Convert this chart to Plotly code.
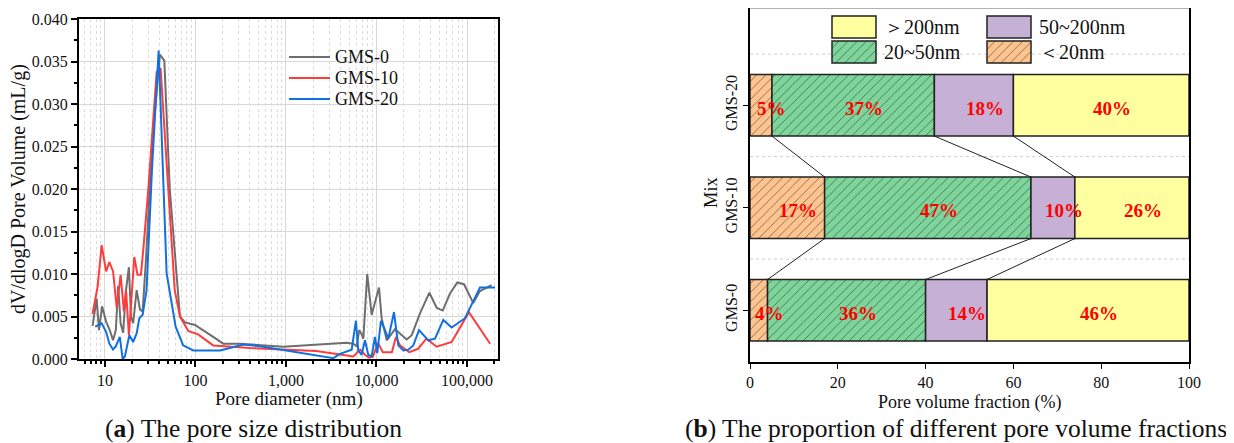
import plotly.graph_objects as go
import numpy as np

# ---------------- data: pore size distribution ----------------
gms0_d = [7.3, 8.1, 8.6, 9.3, 10.3, 11.3, 12.3, 13.2, 14.0, 14.9, 15.9, 17.1, 18.4, 19.4, 20.5, 22.4, 24.4, 26.1,
          28.5, 33, 40.5, 45.3, 52, 67.4, 76.5, 98.9, 157, 203, 309, 400, 934, 4660, 5540, 6040, 6450, 6860, 7160,
          7900, 8850, 10660, 11400, 12970, 16000, 21600, 24500, 30300, 38400, 46300, 53900, 64900, 78200, 92700,
          117000, 139000, 187000]
gms0_v = [0.0039, 0.0071, 0.0034, 0.0062, 0.0044, 0.0034, 0.0022, 0.0034, 0.0086, 0.0042, 0.0031, 0.0081, 0.0108,
          0.0050, 0.0042, 0.0081, 0.0058, 0.0056, 0.0120, 0.0250, 0.0358, 0.0351, 0.0200, 0.0050, 0.0043, 0.0040,
          0.0026, 0.0018, 0.0018, 0.0017, 0.00145, 0.0019, 0.0018, 0.0015, 0.0034, 0.0029, 0.0024, 0.0100, 0.0052,
          0.0084, 0.0048, 0.0022, 0.0035, 0.0023, 0.0028, 0.0054, 0.0078, 0.0060, 0.0057, 0.0077, 0.0090, 0.0088,
          0.0066, 0.0080, 0.0087]

gms10_d = [7.3, 8.3, 9.2, 10.3, 11.2, 12.3, 13.5, 14.9, 16.2, 17.1, 18.4, 21.1, 22.9, 25.0, 26.9, 30.1, 37.3, 41.2,
           59, 67.4, 83.3, 107, 157, 261, 400, 2160, 5540, 6620, 7460, 8300, 9160, 10400, 11750, 14800, 16400,
           18200, 23000, 28800, 35500, 46300, 67700, 105000, 180000]
gms10_v = [0.0053, 0.0085, 0.0134, 0.0103, 0.0114, 0.0103, 0.0060, 0.0099, 0.0056, 0.0081, 0.0028, 0.0120, 0.0099,
           0.0099, 0.0136, 0.0199, 0.0338, 0.0342, 0.0081, 0.0050, 0.0033, 0.0029, 0.0016, 0.0014, 0.0013, 0.00094,
           0.0003, 0.0011, 0.0005, 0.00015, 0.0003, 0.0019, 0.0008, 0.0008, 0.0026, 0.0016, 0.0008, 0.0012, 0.0024,
           0.00145, 0.0020, 0.0055, 0.0018]

gms20_d = [7.8, 9.2, 10.3, 11.2, 12.3, 13.2, 14.6, 15.7, 16.6, 18.6, 20.5, 22.4, 24.0, 26.1, 28.8, 33, 39.2, 48,
           60.4, 73.2, 94.8, 187, 338, 516, 3340, 3950, 5320, 5930, 6290, 6860, 7460, 8110, 8850, 9620, 10200,
           11200, 12200, 13500, 15600, 17400, 19800, 22500, 25500, 29500, 37400, 44300, 54700, 67700, 95000,
           139000, 204000]
gms20_v = [0.0038, 0.0042, 0.0032, 0.0018, 0.0011, 0.0015, 0.0026, 0.0000, 0.0003, 0.0028, 0.0020, 0.0030, 0.0048,
           0.0052, 0.0081, 0.0220, 0.0363, 0.0101, 0.0038, 0.0016, 0.0010, 0.0010, 0.0017, 0.0015, 0.0001, 0.0006,
           0.0011, 0.0045, 0.0010, 0.0005, 0.0022, 0.0005, 0.0003, 0.0026, 0.0007, 0.0045, 0.0036, 0.0024, 0.0055,
           0.0016, 0.0010, 0.0011, 0.0016, 0.0034, 0.0022, 0.0024, 0.0046, 0.0037, 0.0048, 0.0084, 0.0084]

series_names = ["GMS-0", "GMS-10", "GMS-20"]
series_colors = ["#6e6e6e", "#ff3c3c", "#1170e0"]

x_tickvals = [10, 100, 1000, 10000, 100000]
x_ticktext = ["10", "100", "1,000", "10,000", "100,000"]

# ---------------- data: pore volume fractions ----------------
mixes = ["GMS-0", "GMS-10", "GMS-20"]
frac_lt20 = [4, 17, 5]
frac_20_50 = [36, 47, 37]
frac_50_200 = [14, 10, 18]
frac_gt200 = [46, 26, 40]
class_names = ["＜20nm", "20~50nm", "50~200nm", "＞200nm"]
class_colors = ["#fdc48f", "#7ed59b", "#c6b0d5", "#ffff9f"]
class_hatch = ["/", "/", "", ""]

FONT = "Liberation Serif"
WIN_W, WIN_H = 1234, 443
OFF = 8  # default page body margin
W, H = WIN_W - OFF, WIN_H - OFF

def px(xp):
    return (xp - OFF) / W

def py(yp):
    return 1 - (yp - OFF) / H

fig = go.Figure()

# ---- left chart lines ----
for d, v, n, c in zip([gms0_d, gms10_d, gms20_d], [gms0_v, gms10_v, gms20_v], series_names, series_colors):
    fig.add_trace(go.Scatter(x=d, y=v, mode="lines", name=n, line=dict(color=c, width=2),
                             showlegend=False, xaxis="x", yaxis="y"))

# ---- right chart stacked bars ----
fracs = [frac_lt20, frac_20_50, frac_50_200, frac_gt200]
ypos = list(range(len(mixes)))
cum = np.zeros(len(mixes))
bases = []
for f, n, c, h in zip(fracs, class_names, class_colors, class_hatch):
    f = np.array(f, dtype=float)
    bases.append(cum.copy())
    marker = dict(color=c, line=dict(color="#222222", width=1.5))
    if h:
        marker["pattern"] = dict(shape=h, fgcolor="#111111", bgcolor=c, size=6.5, solidity=0.14)
    fig.add_trace(go.Bar(
        x=f.tolist(), y=ypos, base=cum.tolist(), orientation="h", width=0.6,
        marker=marker, showlegend=False, xaxis="x2", yaxis="y2", hoverinfo="skip"))
    cum = cum + f

# connector lines between bars
bounds = [np.cumsum([frac_lt20[i], frac_20_50[i], frac_50_200[i]]).tolist() for i in range(len(mixes))]
for upper, lower in [(2, 1), (1, 0)]:
    for k in range(3):
        fig.add_trace(go.Scatter(x=[bounds[upper][k], bounds[lower][k]], y=[upper - 0.3, lower + 0.3],
                                 mode="lines", line=dict(color="#222222", width=1),
                                 showlegend=False, xaxis="x2", yaxis="y2", hoverinfo="skip"))

annotations = []
# percentage labels
for f, b in zip(fracs, bases):
    for i in range(len(mixes)):
        annotations.append(dict(x=float(b[i] + f[i] / 2), y=ypos[i], xref="x2", yref="y2", text=f"{f[i]}%",
                                showarrow=False, xshift=11, yshift=-3, xanchor="center", yanchor="middle",
                                font=dict(family=FONT, size=19, color="#ff0000", weight="bold")))

# ---- manual legend for left chart (helper axis in window pixel coordinates) ----
for k, (n, c) in enumerate(zip(series_names, series_colors)):
    yy = 57 + 21 * k
    fig.add_trace(go.Scatter(x=[289, 330], y=[yy, yy], mode="lines", line=dict(color=c, width=2),
                             showlegend=False, xaxis="x3", yaxis="y3", hoverinfo="skip"))
    annotations.append(dict(x=px(333), y=py(yy), xref="paper", yref="paper", text=n,
                            xanchor="left", yanchor="middle", showarrow=False,
                            font=dict(family=FONT, size=18, color="#111111")))

# ---- manual legend for right chart ----
leg_items = [(3, 832, 16), (1, 832, 41), (2, 987, 16), (0, 987, 41)]  # class index, left px, top px
for ci, lx, ty in leg_items:
    marker = dict(color=class_colors[ci], line=dict(color="#222222", width=1.5))
    if class_hatch[ci]:
        marker["pattern"] = dict(shape=class_hatch[ci], fgcolor="#111111", bgcolor=class_colors[ci],
                                 size=6.5, solidity=0.14)
    fig.add_trace(go.Bar(
        x=[44], y=[ty + 11], base=[lx], orientation="h", width=22,
        marker=marker, showlegend=False, xaxis="x3", yaxis="y3", hoverinfo="skip"))
    annotations.append(dict(x=px(lx + 50), y=py(ty + 11), xref="paper", yref="paper", text=class_names[ci],
                            xanchor="left", yanchor="middle", showarrow=False,
                            font=dict(family=FONT, size=20, color="#111111")))

# axis titles & captions
def label(xp, yp, text, size=16, angle=0):
    return dict(x=px(xp), y=py(yp), xref="paper", yref="paper", text=text, showarrow=False,
                xanchor="center", yanchor="middle", textangle=angle,
                font=dict(family=FONT, size=size, color="#111111"))

annotations += [
    label(289, 399, "Pore diameter (nm)", size=19),
    label(18, 189, "dV/dlogD Pore Volume (mL/g)", size=20, angle=-90),
    label(970, 402, "Pore volume fraction (%)", size=18),
    label(711, 192, "Mix", size=18.5, angle=-90),
    label(253, 428, "(<b>a</b>) The pore size distribution", size=25.5),
    label(956, 428, "(<b>b</b>) The proportion of different pore volume fractions", size=25.5),
]

tickfont = dict(family=FONT, size=16, color="#111111")

shapes = [dict(type="line", xref="paper", yref="paper", x0=px(750), x1=px(1189), y0=py(8), y1=py(8),
               line=dict(color="#9a9a9a", width=1.5))]
for gy in [0.5, 1.5, 2.5]:
    shapes.append(dict(type="line", xref="x2 domain", yref="y2", x0=0, x1=1, y0=gy, y1=gy, layer="below",
                       line=dict(color="#cfcfcf", width=1, dash="dot")))

fig.update_layout(
    width=W, height=H, margin=dict(l=0, r=0, t=0, b=0, autoexpand=False),
    paper_bgcolor="white", plot_bgcolor="rgba(0,0,0,0)", barmode="overlay",
    showlegend=False,
    xaxis=dict(type="log", domain=[px(79), px(498)],
               range=[float(np.log10(5.17)), float(np.log10(220000))],
               tickmode="array", tickvals=x_tickvals, ticktext=x_ticktext, tickfont=tickfont,
               showline=True, linecolor="black", linewidth=2, mirror=True,
               ticks="outside", ticklen=6, tickwidth=1.5, tickcolor="black",
               showgrid=True, gridcolor="#d8d8d8", gridwidth=1.3, zeroline=False, automargin=False,
               minor=dict(dtick="D1", ticks="outside", ticklen=3, tickcolor="black",
                          showgrid=True, gridcolor="#dcdcdc", griddash="dot", gridwidth=1),
               anchor="y"),
    yaxis=dict(domain=[py(359), py(19)], range=[0, 0.04], dtick=0.005, tickformat=".3f", tickfont=tickfont,
               showline=True, linecolor="black", linewidth=2, mirror=True,
               ticks="outside", ticklen=6, tickwidth=1.5, tickcolor="black",
               showgrid=True, gridcolor="#d8d8d8", gridwidth=1.3, zeroline=False, automargin=False,
               minor=dict(dtick=0.0025, ticks="outside", ticklen=3, tickcolor="black", showgrid=False),
               anchor="x"),
    xaxis2=dict(domain=[px(750), px(1189)], range=[0, 100], dtick=20, tickfont=tickfont,
                showline=True, linecolor="black", linewidth=1.5, automargin=False,
                ticks="outside", ticklen=5, tickcolor="black", showgrid=False, zeroline=False, anchor="y2"),
    yaxis2=dict(domain=[py(362), py(8)], range=[-0.505, 2.95], tickmode="array", tickvals=ypos, ticktext=mixes,
                tickangle=-90, tickfont=tickfont, automargin=False,
                showline=True, linecolor="black", linewidth=1.5, mirror=True,
                ticks="outside", ticklen=5, tickcolor="black", showgrid=False, zeroline=False,
                anchor="x2"),
    xaxis3=dict(domain=[0, 1], range=[OFF, WIN_W], visible=False, anchor="y3", fixedrange=True, automargin=False),
    yaxis3=dict(domain=[0, 1], range=[WIN_H, OFF], visible=False, anchor="x3", fixedrange=True, automargin=False),
    annotations=annotations,
    shapes=shapes,
)

fig.write_html("out.html")
